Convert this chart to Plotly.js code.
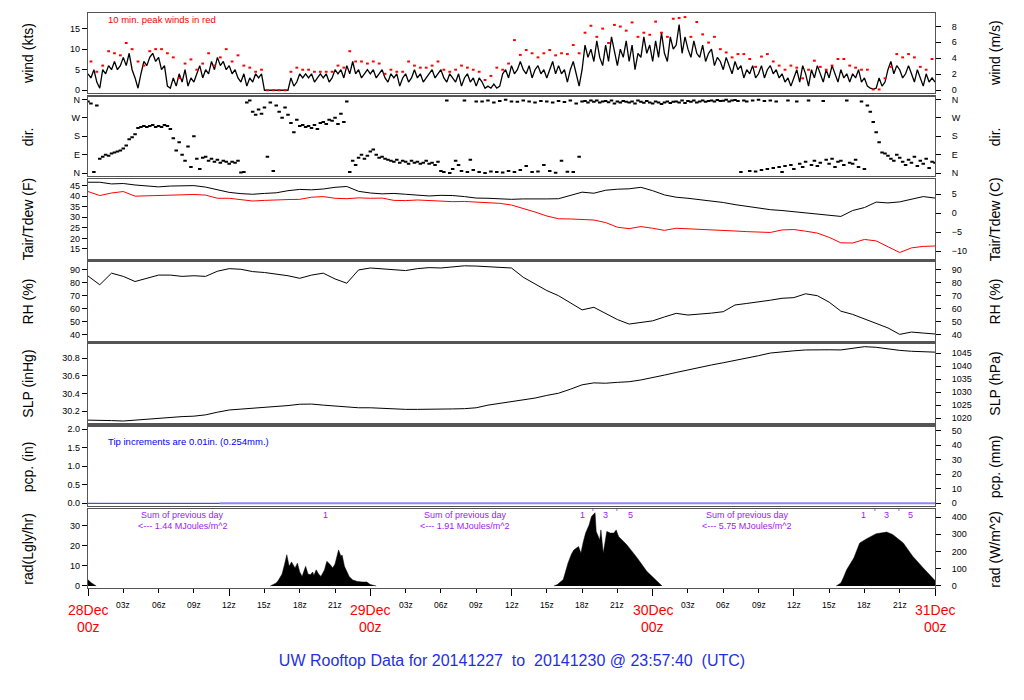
<!DOCTYPE html>
<html><head><meta charset="utf-8">
<script src="https://cdn.plot.ly/plotly-3.0.1.min.js"></script>
<style>html,body{margin:0;padding:0;background:#fff}#chart{width:1024px;height:700px}</style>
</head><body><div id="chart"></div>
<script>
// ---------------- DATA (hours since 28Dec 00z) ----------------
const windStepHours = 0.25;
const windKts = [
4,3,5,2, 0.5,5,4,6, 5,7,5,6, 8,6,9,5, 3,0.5,4,7, 6,8,9,7, 8,5,6,1, 0.5,3,1,4,
2,5,1,3, 2,4,6,3, 5,4,7,5, 8,6,7,5, 6,4,5,3, 2,4,1,3, 2,4,3,4, 0,0,0,0,
0,0,0,0, 0,3,1,2, 4,3,4,3, 4,2,3,4, 3,4,2,3, 5,4,5,3, 6,4,7,4, 5,3,4,5,
4,5,3,4, 5,3,2,4, 3,4,1,3, 4,2,3,5, 3,4,2,3, 4,5,3,4, 5,3,2,4, 3,2,4,1,
3,4,2,3, 1,3,2,0.5, 1,0.5,1.5,0.5, 1,4,5,3, 6,4,5,7, 5,4,6,3, 5,6,4,5, 3,5,7,4,
6,4,5,2, 5,7,4,1, 5,11,8,10, 7,12,8,6, 11,7,13,9, 6,10,8,12, 7,11,5,9, 8,13,9,11,
7,12,8,14, 9,7,13,10, 11,16,9,13, 10,8,12,9, 8,11,7,9, 10,6,8,7, 5,8,6,4, 7,5,6,3,
5,4,6,3, 4,6,3,5, 6,4,5,3, 4,2,3,1, 3,5,2,6, 4,1,5,3, 6,4,2,5, 3,6,4,2,
5,3,4,2, 4,3,5,2, 3,1,0.5,0.3, 0.5,3,1,2, 5,7,4,6, 5,3,4,6, 4,2,5,3, 1,4,2,3,
2
];
const peakStepHours = 0.5;
const peakOffsetHours = 0.25;
const peakKts = [
7,4.5, 6,9.5, 9,8.5, 11.5,10, 7,6, 9.5,10, 10,9, 8,3, 6.5,7.5, 5,6.5, 9,6, 8,10,
7,8.5, 6,5.5, 4.5,5, 0,0, 0,0, 4.5,5.5, 5,5, 4.5,4.5, 4.5,4.5, 6,5.5, 9.5,7, 7,6.5,
7,6.5, 4,5, 4.5,4.5, 7,6, 5.5,5.5, 6,7, 5,4.5, 5,6, 5.5,5, 4.5,2.5, 3.5,5.5, 5,6.5,
12.2,8.6, 9.8,9, 8,9, 9.8,8.5, 9,8.8, 11,9, 14,15.7, 13,15, 11.5,15.9, 15.5,14.5, 16.5,13, 14,13.5,
16.7,14, 13,17.4, 17.6,17.8, 13,16.6, 13.6,11.6, 13,10, 9.2,8, 8.8,8.8, 7.6,5.7, 8.2,8.8, 7,6, 5,6,
5.5,2.9, 5,7.2, 5.7,5, 6,7.6, 7.6,6, 5.5,5, 5,0.2, 0.2,2.9, 5.7,8.8, 8,8.8, 8,5.7, 5,7.6
];
const dirStepHours = 0.25;
const dirDeg = [
350,340,5,330, 70,80,90,85, 95,100,105,110, 120,135,165,175, 190,220,225,230, 225,230,235,225,
230,225,235,230, 215,170,110,150, 90,60,130,30, 180,70,20,75, 80,60,70,55, 65,50,60,55,
45,55,50,60, 3,5,345,355, 300,285,310,290, 320,80,345,10, 330,300,270,320, 285,245,200,260,
230,235,225,230, 220,235,215,245, 250,240,260,255, 270,240,290,250, 350,5,60,40, 75,90,70,85,
105,115,90,75, 80,70,65,60, 55,65,50,60, 55,45,60,50, 55,45,50,60, 45,50,40,55,
10,5,355,0, 20,60,40,10, 355,5,65,15, 350,5,350,0, 355,8,345,5, 352,3,358,10,
350,5,348,15, 355,35,350,5, 345,8,352,40, 350,10,345,2, 352,60,347,7, 355,5,340,80,
350,352,345,355, 348,355,345,350, 352,346,355,340, 350,345,352,348, 345,350,340,355, 348,343,352,345,
340,350,345,338, 345,350,342,348, 350,345,355,342, 352,348,355,345, 350,355,348,352, 355,350,357,352,
353,358,350,355, 357,352,5,355, 350,10,355,8, 358,15,352,20, 355,25,350,30, 5,35,355,40,
20,350,45,30, 55,355,40,60, 35,50,352,65, 45,70,30,55, 60,40,355,50, 45,65,30,350,
20,330,300,250, 200,150,100,95, 85,70,60,90, 75,55,40,65, 50,80,35,60, 45,70,25,55,
50
];
const hourlyStep = 1;
const tairF = [
46.6,46.6,45.8,46.0,45.3,44.8,44.4,44.8,45.0,45.0,44.3,43.2,41.8,41.2,40.9,41.3,41.6,42.6,43.2,43.0,43.4,44.2,44.6,42.3,
41.5,41.1,41.3,40.9,40.6,40.1,40.4,40.3,39.8,39.1,39.0,38.6,38.5,38.7,38.6,38.7,38.8,40.5,41.9,41.4,42.8,43.3,43.5,44.2,
42.6,40.6,39.5,39.0,38.4,37.8,37.0,36.0,35.2,34.3,33.6,33.2,32.6,32.3,31.5,31.0,30.4,33.2,34.6,37.2,36.8,37.3,38.6,39.8,
39.1
];
const tdewF = [
42.2,40.3,41.5,42.2,40.0,40.2,40.3,40.5,40.6,40.8,40.5,39.0,39.0,38.2,37.7,38.0,38.3,38.4,38.5,39.5,39.8,39.0,38.8,39.2,
39.0,39.1,38.0,37.9,38.2,37.9,37.6,37.4,37.5,37.1,36.9,36.6,35.8,34.3,32.5,30.6,29.3,29.2,28.9,28.7,27.5,25.3,24.6,25.6,
24.8,23.8,24.8,24.6,24.2,24.0,23.7,23.5,23.2,23.0,22.8,24.0,24.2,23.4,22.5,20.5,17.9,17.8,19.5,18.8,16.0,13.3,15.5,16.2,
16.4
];
const rhPct = [
85.3,78.5,87.5,85.0,81.0,83.5,86.0,86.0,85.0,85.5,85.0,89.0,91.0,90.5,88.7,88.0,86.9,85.5,83.5,86.0,87.5,83.0,79.7,90.0,
91.5,91.0,90.5,89.5,91.0,91.8,91.5,92.5,93.2,93.0,92.5,92.3,91.5,84.3,79.0,74.0,70.0,64.5,59.0,61.0,56.5,51.5,48.0,49.0,
50.5,53.5,56.3,55.0,55.5,56.5,57.6,62.8,64.0,65.0,66.5,68.0,68.5,71.5,70.0,65.0,58.0,55.5,52.0,48.5,45.0,40.0,41.8,41.0,
40.3
];
const slpInHg = [
30.10,30.10,30.095,30.09,30.10,30.11,30.125,30.135,30.14,30.145,30.16,30.19,30.215,30.225,30.235,30.24,30.255,30.265,30.28,30.282,30.27,30.26,30.245,30.24,
30.24,30.232,30.224,30.222,30.222,30.221,30.224,30.227,30.23,30.24,30.27,30.29,30.31,30.33,30.35,30.38,30.405,30.45,30.5,30.522,30.518,30.528,30.535,30.555,
30.58,30.61,30.64,30.67,30.70,30.725,30.75,30.775,30.80,30.83,30.86,30.875,30.885,30.895,30.892,30.897,30.895,30.915,30.932,30.925,30.905,30.89,30.88,30.875,
30.87
];
const pcpHoursA = [0, 11.2];
const pcpInA = [0, 0];
const pcpHoursB = [11.2, 72];
const pcpInB = [0, 0];
const radHours = [
0,0.3,0.7, null,
15.5,16.0,16.2,16.5,16.7,16.9,17.1,17.3,17.6,17.8,18.0,18.2,18.5,18.7,18.9,19.1,19.2,19.4,19.6,19.8,20.1,20.3,20.6,20.8,21.0,21.3,21.5,21.6,21.8,22.0,22.2,22.5,22.9,23.3,23.7,24.0,24.5, null,
39.6,39.9,40.4,40.8,41.1,41.3,41.7,41.9,42.1,42.3,42.6,42.8,43.1,43.2,43.5,43.6,43.8,44.1,44.4,44.7,44.9,45.1,45.8,46.7,47.5,48.4,48.8, null,
63.6,64.0,64.2,64.5,65.1,65.6,66.2,67.0,67.9,68.4,69.3,70.1,71.0,72.0
];
const radLgly = [
3.1,1.5,0, null,
0,1.5,3,6,10.6,15.6,9.8,12,9,11.4,7,4.8,9.8,6,5.6,7,5.2,8.1,6,4.8,8,12.3,10.6,9,11,18,14.8,15.5,9.8,7,4.8,3,2.3,2.0,2.0,0.7,0, null,
0,0.7,3.2,11.4,16,18,19.7,16.4,22,26.4,30.5,34.7,36.6,27.2,23,28,16.4,27.2,26.4,26.4,28,24.7,20.6,13.9,7.3,2.3,0, null,
0,1.5,4.0,8.2,14,21.5,23.6,26.1,26.9,25.7,21.5,14.9,9,2.7
];
const daySumMJ = ['1.44', '1.91', '5.75'];
const dayStartHours = [0, 24, 48];
const sunMarkHours = [[20.2], [42.0, 42.9, 44.0, 45.0, 46.1], [65.9, 66.9, 67.9, 68.9, 69.9]];
const sunMarkText = ['1', "'", '3', "'", '5'];
const dateLabels = ['28Dec', '29Dec', '30Dec', '31Dec'];
const dateHours = [0, 24, 48, 72];
const hourLabels = ['03z', '06z', '09z', '12z', '15z', '18z', '21z'];
const hourOffsets = [3, 6, 9, 12, 15, 18, 21];
const leftTitles = ['wind (kts)', 'dir.', 'Tair/Tdew (F)', 'RH (%)', 'SLP (inHg)', 'pcp. (in)', 'rad(Lgly/hr)'];
const rightTitles = ['wind (m/s)', 'dir.', 'Tair/Tdew (C)', 'RH (%)', 'SLP (hPa)', 'pcp. (mm)', 'rad (W/m^2)'];
const chartTitle = 'UW Rooftop Data for 20141227  to  20141230 @ 23:57:40  (UTC)';

// ---------------- BUILD ----------------
const FONT = '"Liberation Sans", Arial, Helvetica, sans-serif';
const times = (arr, step, off) => arr.map((_, i) => (off || 0) + i * step);
const KTS_MS = 0.514444, INHG_HPA = 33.8639, IN_MM = 25.4, LGLY_WM2 = 11.622;
const f2c = f => (f - 32) * 5 / 9;

const traces = [
  {x: times(windKts, windStepHours), y: windKts, xaxis: 'x', yaxis: 'y', mode: 'lines', line: {color: '#000', width: 1.3}},
  {x: times(peakKts, peakStepHours, peakOffsetHours), y: peakKts, xaxis: 'x', yaxis: 'y', mode: 'markers',
   marker: {symbol: 'line-ew', size: 2, color: '#ff0000', line: {color: '#ff0000', width: 2}}},
  {x: times(dirDeg, dirStepHours), y: dirDeg, xaxis: 'x2', yaxis: 'y2', mode: 'markers',
   marker: {symbol: 'line-ew', size: 2.5, color: '#000', line: {color: '#000', width: 2}}},
  {x: times(tairF, hourlyStep), y: tairF, xaxis: 'x3', yaxis: 'y3', mode: 'lines', line: {color: '#000', width: 1}},
  {x: times(tdewF, hourlyStep), y: tdewF, xaxis: 'x3', yaxis: 'y3', mode: 'lines', line: {color: '#ff0000', width: 1}},
  {x: times(rhPct, hourlyStep), y: rhPct, xaxis: 'x4', yaxis: 'y4', mode: 'lines', line: {color: '#000', width: 1}},
  {x: times(slpInHg, hourlyStep), y: slpInHg, xaxis: 'x5', yaxis: 'y5', mode: 'lines', line: {color: '#000', width: 1}},
  {x: pcpHoursB, y: pcpInB, xaxis: 'x6', yaxis: 'y6', mode: 'lines', line: {color: '#8888ff', width: 2}},
  {x: pcpHoursA, y: pcpInA, xaxis: 'x6', yaxis: 'y6', mode: 'lines', line: {color: '#2222cc', width: 1}},
  {x: radHours, y: radLgly, xaxis: 'x7', yaxis: 'y7', mode: 'lines', fill: 'tozeroy', fillcolor: '#000',
   line: {color: '#000', width: 0.5}, connectgaps: false}
];

// same series in secondary units on the right-hand axes (transparent, keeps those axes alive)
const rightSeries = [
  [times(windKts, windStepHours), windKts.map(v => v * KTS_MS)],
  [times(dirDeg, dirStepHours), dirDeg],
  [times(tairF, hourlyStep), tairF.map(f2c)],
  [times(rhPct, hourlyStep), rhPct],
  [times(slpInHg, hourlyStep), slpInHg.map(v => v * INHG_HPA)],
  [pcpHoursB, pcpInB.map(v => v * IN_MM)],
  [radHours, radLgly.map(v => v == null ? null : v * LGLY_WM2)]
];
rightSeries.forEach((s, i) => {
  traces.push({x: s[0], y: s[1], xaxis: i === 0 ? 'x' : 'x' + (i + 1), yaxis: 'y' + (i + 8),
    mode: 'lines', opacity: 0, line: {width: 1, color: '#000'}});
});
traces.forEach(t => { t.hoverinfo = 'skip'; t.showlegend = false; });

const domains = [[0.861, 1.0], [0.717, 0.8544], [0.5717, 0.7108], [0.429, 0.5675], [0.2864, 0.4243], [0.1431, 0.2805], [0, 0.1369]];
const leftRanges = [[-0.65, 18.8], [-13, 373], [10.1, 48.0], [34.6, 96.4], [30.064, 30.962], [-0.065, 2.07], [-1.0, 38.3]];
const rightConv = [v => v * KTS_MS, v => v, f2c, v => v, v => v * INHG_HPA, v => v * IN_MM, v => v * LGLY_WM2];
const leftTicks = [
  {tickvals: [0, 5, 10, 15]},
  {tickvals: [0, 90, 180, 270, 360], ticktext: ['N', 'E', 'S', 'W', 'N']},
  {tickvals: [15, 20, 25, 30, 35, 40, 45]},
  {tickvals: [40, 50, 60, 70, 80, 90]},
  {tickvals: [30.2, 30.4, 30.6, 30.8], ticktext: ['30.2', '30.4', '30.6', '30.8']},
  {tickvals: [0, 0.5, 1, 1.5, 2], ticktext: ['0.0', '0.5', '1.0', '1.5', '2.0']},
  {tickvals: [0, 10, 20, 30]}
];
const rightTicks = [
  {tickvals: [0, 2, 4, 6, 8]},
  {tickvals: [0, 90, 180, 270, 360], ticktext: ['N', 'E', 'S', 'W', 'N']},
  {tickvals: [-10, -5, 0, 5]},
  {tickvals: [40, 50, 60, 70, 80, 90]},
  {tickvals: [1020, 1025, 1030, 1035, 1040, 1045]},
  {tickvals: [0, 10, 20, 30, 40, 50]},
  {tickvals: [0, 100, 200, 300, 400]}
];

const layout = {
  width: 1024, height: 700,
  margin: {l: 88, r: 89, t: 13, b: 112},
  paper_bgcolor: '#fff', plot_bgcolor: '#fff',
  font: {family: FONT, size: 9, color: '#000'},
  showlegend: false,
  title: {text: chartTitle, x: 0.5, xanchor: 'center', y: 1 - 660 / 700, yanchor: 'middle',
          font: {family: FONT, size: 16, color: '#1f2fe6'}},
  annotations: [],
  shapes: []
};

for (let i = 0; i < 7; i++) {
  const n = i + 1;
  const xk = n === 1 ? 'xaxis' : 'xaxis' + n;
  const yk = n === 1 ? 'yaxis' : 'yaxis' + n;
  const xid = n === 1 ? 'x' : 'x' + n;
  const yid = n === 1 ? 'y' : 'y' + n;
  const bottom = n === 7;
  layout[xk] = {
    domain: [0, 1], anchor: yid, range: [0, 72], showgrid: false, zeroline: false,
    showline: true, mirror: true, linecolor: '#555', linewidth: 1.3,
    showticklabels: false,
    ticks: bottom ? 'outside' : '', tick0: 0, dtick: 12, ticklen: 7, tickcolor: '#000', tickwidth: 1
  };
  if (n > 1) layout[xk].matches = 'x';
  if (bottom) layout[xk].minor = {ticks: 'outside', dtick: 3, tick0: 0, ticklen: 4, tickcolor: '#000', tickwidth: 1};
  layout[yk] = Object.assign({
    domain: domains[i], anchor: xid, range: leftRanges[i], tickmode: 'array', showgrid: false, zeroline: false,
    showline: true, mirror: true, linecolor: '#555', linewidth: 1.3,
    ticks: 'outside', ticklen: 5, tickcolor: '#000', tickwidth: 1, tickfont: {size: 9}
  }, leftTicks[i]);
  const rn = n + 7;
  layout['yaxis' + rn] = Object.assign({
    overlaying: yid, anchor: xid, side: 'right', range: leftRanges[i].map(rightConv[i]), tickmode: 'array',
    showgrid: false, zeroline: false, showline: false,
    ticks: 'outside', ticklen: 5, tickcolor: '#000', tickwidth: 1, tickfont: {size: 9}, ticklabelstandoff: 9
  }, rightTicks[i]);
  layout.annotations.push({text: leftTitles[i], xref: 'paper', yref: yid + ' domain', x: (28 - 88) / 847, y: 0.5,
    xanchor: 'center', yanchor: 'middle', textangle: -90, showarrow: false, font: {size: 14}});
  layout.annotations.push({text: rightTitles[i], xref: 'paper', yref: yid + ' domain', x: (995 - 88) / 847, y: 0.5,
    xanchor: 'center', yanchor: 'middle', textangle: -90, showarrow: false, font: {size: 14}});
}

layout.annotations.push({text: '10 min. peak winds in red', xref: 'x', yref: 'y', x: 1.5, y: 17.1, xanchor: 'left', yanchor: 'middle',
  showarrow: false, font: {size: 9.5, color: '#ff0000'}});
layout.annotations.push({text: 'Tip increments are 0.01in. (0.254mm.)', xref: 'x6', yref: 'y6', x: 1.5, y: 1.68, xanchor: 'left', yanchor: 'middle',
  showarrow: false, font: {size: 9.5, color: '#0000ff'}});
dayStartHours.forEach((d, k) => {
  layout.annotations.push({text: 'Sum of previous day', xref: 'x7', yref: 'y7', x: d + 8.05, y: 35.5, xanchor: 'center', yanchor: 'middle',
    showarrow: false, font: {size: 9, color: '#a020f0'}});
  layout.annotations.push({text: '<--- ' + daySumMJ[k] + ' MJoules/m^2', xref: 'x7', yref: 'y7', x: d + 8.05, y: 30.0, xanchor: 'center', yanchor: 'middle',
    showarrow: false, font: {size: 9, color: '#a020f0'}});
  sunMarkHours[k].forEach((h, j) => {
    layout.annotations.push({text: sunMarkText[j], xref: 'x7', yref: 'y7', x: h, y: j % 2 ? 37.0 : 35.5, xanchor: 'center', yanchor: 'middle',
      showarrow: false, font: {size: 9, color: '#a020f0'}});
  });
});
dateHours.forEach((d, k) => {
  layout.annotations.push({text: dateLabels[k], xref: 'x7', yref: 'paper', x: d, y: (588 - 610) / 575, xanchor: 'center', yanchor: 'middle',
    showarrow: false, font: {size: 14, color: '#ff0000'}});
  layout.annotations.push({text: '00z', xref: 'x7', yref: 'paper', x: d, y: (588 - 627) / 575, xanchor: 'center', yanchor: 'middle',
    showarrow: false, font: {size: 14, color: '#ff0000'}});
  if (k < 3) hourOffsets.forEach((o, j) => {
    layout.annotations.push({text: hourLabels[j], xref: 'x7', yref: 'paper', x: d + o, y: (588 - 605) / 575, xanchor: 'center', yanchor: 'middle',
      showarrow: false, font: {size: 8.5, color: '#000'}});
  });
});

Plotly.newPlot('chart', traces, layout, {displayModeBar: false, staticPlot: true});
</script></body></html>
